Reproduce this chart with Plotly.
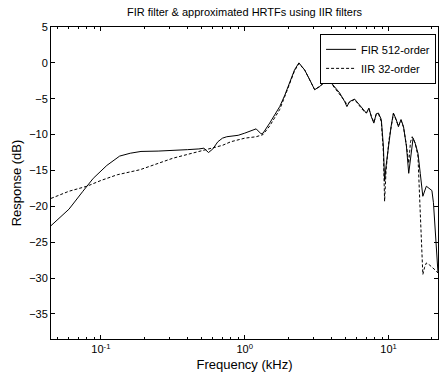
import numpy as np
import plotly.graph_objects as go

# ---- data (kHz, dB) ----
fir_freq = [0.045, 0.06, 0.075, 0.0885, 0.11, 0.135, 0.16, 0.19, 0.25, 0.3, 0.4, 0.48, 0.52,
            0.56, 0.6, 0.65, 0.7, 0.75, 0.8, 0.9, 1.0, 1.1, 1.2, 1.3, 1.34, 1.49, 1.6, 1.75,
            1.9, 2.0, 2.1, 2.22, 2.38, 2.5, 2.61, 2.83, 3.06, 3.32, 3.5, 3.69, 4.0, 4.3, 4.57,
            4.95, 5.13, 5.36, 5.8, 6.12, 6.63, 7.0, 7.3, 7.58, 7.9, 8.2, 8.5, 8.9, 9.2, 9.38,
            9.6, 10.05, 10.4, 10.8, 11.3, 11.7, 12.2, 12.7, 13.3, 13.8, 14.4, 14.8, 15.3, 16.0,
            16.6, 17.3, 18.3, 19.3, 20.0, 20.5, 21.4, 22.05]
fir_db = [-22.7, -20.4, -17.9, -16.1, -14.3, -13.0, -12.6, -12.35, -12.3, -12.25, -12.1, -12.0,
          -11.9, -12.5, -12.0, -11.0, -10.5, -10.3, -10.2, -10.1, -9.8, -9.5, -9.2, -9.9, -9.8,
          -8.4, -7.3, -6.1, -4.5, -3.3, -2.2, -0.96, 0.0, -0.5, -1.0, -2.35, -3.75, -3.3, -2.8,
          -2.4, -2.8, -3.5, -4.2, -5.4, -6.1, -5.4, -5.05, -5.6, -6.5, -7.0, -6.3, -7.5, -8.4,
          -7.1, -7.0, -7.9, -11.6, -16.5, -14.4, -10.7, -8.9, -7.0, -7.9, -8.9, -7.9, -8.9,
          -11.6, -15.4, -12.1, -10.5, -11.2, -12.6, -15.4, -18.6, -17.2, -17.5, -17.8, -19.5,
          -24.7, -29.3]

iir_freq = [0.045, 0.06, 0.08, 0.1, 0.13, 0.187, 0.316, 0.542, 0.7, 0.8, 1.0, 1.2, 1.34, 1.49,
            1.75, 2.0, 2.22, 2.38, 2.61, 2.83, 3.06, 3.32, 3.69, 4.0, 4.57, 4.95, 5.13, 5.36,
            5.8, 6.12, 6.63, 7.0, 7.3, 7.58, 7.9, 8.2, 8.5, 8.9, 9.2, 9.38, 9.6, 10.05, 10.4,
            10.8, 11.3, 11.7, 12.2, 12.7, 13.3, 13.8, 14.2, 14.6, 15.3, 16.0, 16.6, 17.0, 17.3,
            17.8, 18.3, 19.3, 20.5, 21.4, 22.05]
iir_db = [-18.9, -17.9, -17.2, -16.4, -15.6, -14.9, -13.3, -12.1, -11.5, -11.0, -10.5, -10.3,
          -10.0, -8.8, -6.5, -3.5, -1.1, -0.1, -1.0, -2.4, -3.7, -3.3, -2.5, -2.9, -4.3, -5.3,
          -5.8, -5.5, -5.1, -5.7, -6.6, -7.0, -6.5, -7.4, -8.3, -7.2, -7.1, -8.2, -12.5, -19.3,
          -15.0, -10.8, -9.0, -7.1, -8.0, -8.8, -8.0, -9.0, -11.5, -14.0, -11.0, -10.3, -11.2,
          -13.0, -20.9, -26.0, -29.5, -28.5, -27.9, -28.2, -28.6, -29.0, -29.3]

major_vals = [0.1, 1, 10]
major_text = ["10<sup>-1</sup>", "10<sup>0</sup>", "10<sup>1</sup>"]
y_ticks = [-35, -30, -25, -20, -15, -10, -5, 0, 5]

x_range = [np.log10(0.045), np.log10(22.05)]
minor_vals = [m * 10.0 ** d for d in (-2, -1, 0, 1) for m in range(2, 10)
              if 0.045 <= m * 10.0 ** d <= 22.05]

FONT = "Liberation Sans, Arial, sans-serif"

fig = go.Figure()
fig.add_trace(go.Scatter(x=fir_freq, y=fir_db, mode="lines", name="FIR 512-order",
                         line=dict(color="black", width=1)))
fig.add_trace(go.Scatter(x=iir_freq, y=iir_db, mode="lines", name="IIR 32-order",
                         line=dict(color="black", width=1, dash="3px,2px")))
# empty trace so the minor-tick overlay axis is drawn
fig.add_trace(go.Scatter(x=[], y=[], xaxis="x2", yaxis="y", showlegend=False,
                         hoverinfo="skip"))

axis_common = dict(showline=True, linecolor="black", linewidth=1, mirror="ticks",
                   ticks="inside", tickcolor="black", showgrid=False, zeroline=False)

fig.update_layout(
    width=440, height=380,
    margin=dict(l=51, r=2, t=27, b=41),
    paper_bgcolor="white", plot_bgcolor="white",
    font=dict(family=FONT, size=11, color="black"),
    title=dict(text="FIR filter & approximated HRTFs using IIR filters",
               x=0.5, xref="paper", xanchor="center",
               y=1 - 12 / 380, yref="container", yanchor="middle",
               font=dict(size=11)),
    xaxis=dict(type="log", range=x_range, tickvals=major_vals, ticktext=major_text,
               ticklen=4, title=dict(text="Frequency (kHz)", standoff=5), **axis_common),
    xaxis2=dict(type="log", range=x_range, overlaying="x", anchor="y", side="bottom",
                tickvals=minor_vals, ticktext=["" for _ in minor_vals], ticklen=2,
                showticklabels=False, ticks="inside", mirror="ticks", showline=False,
                tickcolor="black", showgrid=False, zeroline=False),
    yaxis=dict(range=[-38.5, 5], tickvals=y_ticks, ticklen=4,
               title=dict(text="Response (dB)", standoff=4), **axis_common),
    legend=dict(x=0.995, xanchor="right", y=0.978, yanchor="top",
                bordercolor="black", borderwidth=1, bgcolor="white",
                itemwidth=30, font=dict(size=11), tracegroupgap=0),
    showlegend=True,
)

fig.write_html("out.html")
